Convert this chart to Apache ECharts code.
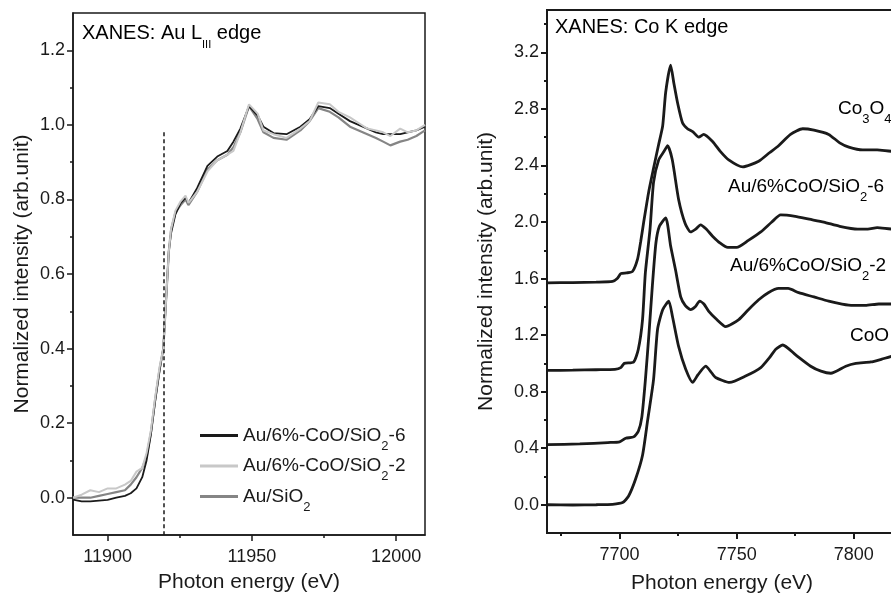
<!DOCTYPE html>
<html>
<head>
<meta charset="utf-8">
<title>XANES</title>
<script src="https://cdn.jsdelivr.net/npm/echarts@6/dist/echarts.min.js"></script>
<style>
html, body { margin: 0; padding: 0; background: #fff; }
#chart { width: 891px; height: 593px; }
</style>
</head>
<body>
<div id="chart"></div>
<script>
// ---- left panel: Au L3 edge ----
var auEnergy = [11888, 11891, 11894, 11897, 11900, 11903, 11906, 11908, 11910, 11912, 11913.5, 11915,
  11916.5, 11918, 11919.3, 11920.4, 11921.2, 11922, 11923.5, 11925.3, 11927, 11928, 11931, 11934.6,
  11938, 11941.5, 11943.6, 11946, 11949, 11952, 11954, 11957.5, 11962, 11966.8, 11970, 11973,
  11977, 11980, 11984, 11987, 11990, 11993, 11995.5, 11998, 12001.4, 12004, 12007, 12010];
var auCoO6 = [-0.005, -0.01, -0.01, -0.008, -0.006, 0.0, 0.005, 0.012, 0.025, 0.055, 0.1, 0.17,
  0.26, 0.34, 0.40, 0.55, 0.66, 0.71, 0.76, 0.79, 0.805, 0.79, 0.83, 0.89,
  0.915, 0.93, 0.955, 0.99, 1.05, 1.025, 0.995, 0.978, 0.975, 0.995, 1.015, 1.05,
  1.045, 1.03, 1.01, 1.0, 0.99, 0.98, 0.975, 0.975, 0.975, 0.98, 0.985, 0.995];
var auCoO2 = [0.0, 0.008, 0.02, 0.015, 0.025, 0.025, 0.035, 0.045, 0.07, 0.08, 0.12, 0.18,
  0.27, 0.35, 0.40, 0.55, 0.66, 0.72, 0.77, 0.795, 0.81, 0.79, 0.82, 0.875,
  0.905, 0.92, 0.93, 0.98, 1.055, 1.03, 0.985, 0.975, 0.965, 0.99, 1.01, 1.06,
  1.055, 1.035, 1.02, 1.005, 0.99, 0.985, 0.98, 0.97, 0.99, 0.98, 0.985, 1.0];
var auSiO2 = [0.0, 0.0, 0.0, 0.005, 0.01, 0.015, 0.02, 0.035, 0.055, 0.08, 0.11, 0.175,
  0.265, 0.345, 0.40, 0.55, 0.66, 0.72, 0.765, 0.785, 0.80, 0.785, 0.82, 0.88,
  0.905, 0.92, 0.94, 0.98, 1.05, 1.015, 0.98, 0.965, 0.96, 0.985, 1.01, 1.045,
  1.035, 1.02, 0.995, 0.985, 0.975, 0.965, 0.955, 0.945, 0.955, 0.96, 0.97, 0.985];
var auEdge = 11919.3;
var auEdgeTop = 0.98;
var auXTicks = [11900, 11950, 12000];
var auXMinor = [11925, 11975];
var auYTicks = [0, 0.2, 0.4, 0.6, 0.8, 1.0, 1.2];
var auYMinor = [0.1, 0.3, 0.5, 0.7, 0.9, 1.1];

// ---- right panel: Co K edge ----
var co3o4E = [7669, 7680, 7690, 7697, 7699, 7700.5, 7703, 7705.5, 7707.7, 7709, 7710.3, 7712.5,
  7714.5, 7716.7, 7718.4, 7719.7, 7721.8, 7723.2, 7724.8, 7726.9, 7729, 7731.2, 7733.8, 7735.9,
  7739.7, 7743, 7746.6, 7752.6, 7759.4, 7764, 7767.9, 7773, 7778.2, 7783, 7789.3, 7794,
  7797.9, 7803.8, 7810, 7816.7, 7830];
var co3o4V = [1.57, 1.572, 1.575, 1.58, 1.60, 1.635, 1.64, 1.65, 1.74, 1.86, 2.0, 2.22,
  2.38, 2.55, 2.68, 2.92, 3.11, 2.98, 2.84, 2.70, 2.66, 2.64, 2.60, 2.62,
  2.57, 2.50, 2.44, 2.39, 2.43, 2.49, 2.54, 2.62, 2.66, 2.65, 2.62, 2.56,
  2.53, 2.51, 2.51, 2.50, 2.50];
var au6E = [7669, 7680, 7690, 7698, 7700.5, 7702, 7706, 7708, 7709.8, 7711, 7713, 7714.5,
  7716.7, 7719, 7720.5, 7722.5, 7725.2, 7728, 7730.3, 7732.5, 7734.6, 7737, 7739.7, 7743,
  7746.2, 7750, 7755, 7760.3, 7765, 7768.8, 7775, 7781, 7787.2, 7794, 7801.7, 7806,
  7810, 7816.7, 7830];
var au6V = [0.95, 0.952, 0.955, 0.958, 0.97, 1.0, 1.01, 1.10, 1.31, 1.64, 1.95, 2.28,
  2.44, 2.50, 2.54, 2.44, 2.16, 1.99, 1.93, 1.95, 1.98, 1.95, 1.90, 1.85,
  1.82, 1.82, 1.87, 1.93, 2.00, 2.05, 2.04, 2.02, 2.0, 1.97, 1.95, 1.95,
  1.96, 1.95, 1.95];
var au2E = [7669, 7683, 7695, 7700, 7702.6, 7706, 7708, 7709.5, 7711, 7712.5, 7714, 7715.5,
  7717, 7719.7, 7721.8, 7723.9, 7726.1, 7728, 7730.3, 7732.3, 7734.2, 7736, 7738, 7741.5,
  7745.3, 7750.9, 7755, 7759.4, 7763.5, 7767.9, 7772, 7776.5, 7783, 7789.3, 7795, 7799.6,
  7805, 7810.7, 7816.7, 7830];
var au2V = [0.425, 0.43, 0.44, 0.445, 0.47, 0.48, 0.52, 0.62, 0.88, 1.20, 1.55, 1.85,
  1.97, 2.03, 1.83, 1.66, 1.47, 1.41, 1.38, 1.40, 1.44, 1.42, 1.37, 1.31,
  1.26, 1.31, 1.38, 1.45, 1.50, 1.53, 1.53, 1.50, 1.47, 1.44, 1.42, 1.41,
  1.41, 1.42, 1.42, 1.41];
var cooE = [7669, 7680, 7690, 7697, 7701.3, 7703.8, 7706.8, 7709.8, 7712, 7714.5, 7716.2, 7718.4,
  7721, 7722.6, 7725.2, 7728.2, 7731.2, 7733.5, 7736.8, 7739, 7741, 7747, 7753.8, 7760.3,
  7764, 7766.7, 7769.7, 7775.2, 7781.6, 7786, 7790.2, 7796.6, 7800.9, 7807.3, 7812, 7816.2, 7830];
var cooV = [0.0, -0.002, 0.0, 0.003, 0.015, 0.06, 0.18, 0.35, 0.60, 0.885, 1.24, 1.38,
  1.44, 1.33, 1.12, 0.96, 0.865, 0.92, 0.98, 0.94, 0.90, 0.865, 0.91, 0.97,
  1.04, 1.10, 1.13, 1.06, 0.98, 0.945, 0.93, 0.98, 1.00, 1.01, 1.03, 1.05, 1.08];
var coXTicks = [7700, 7750, 7800];
var coXMinor = [7675, 7725, 7775, 7825];
var coYTicks = [0, 0.4, 0.8, 1.2, 1.6, 2.0, 2.4, 2.8, 3.2];
var coYMinor = [0.2, 0.6, 1.0, 1.4, 1.8, 2.2, 2.6, 3.0, 3.4];

var font = "'Liberation Sans', Arial, sans-serif";
var ink = '#1a1a1a';

function zip(xs, ys) {
  return xs.map(function (x, i) { return [x, ys[i]]; });
}

var richText = {
  n: { fontSize: 19, fontFamily: font, color: ink, lineHeight: 34 },
  s: { fontSize: 13, fontFamily: font, color: ink, lineHeight: 13, verticalAlign: 'bottom' },
  t: { fontSize: 20, fontFamily: font, color: ink, lineHeight: 34 },
  ts: { fontSize: 11, fontFamily: font, color: ink, lineHeight: 12, verticalAlign: 'bottom' }
};

var legendNames = {
  'Au/6%-CoO/SiO2-6': '{n|Au/6%-CoO/SiO}{s|2}{n|-6}',
  'Au/6%-CoO/SiO2-2': '{n|Au/6%-CoO/SiO}{s|2}{n|-2}',
  'Au/SiO2': '{n|Au/SiO}{s|2}'
};

// one axis with labels + long ticks, one with only the short minor ticks
function xAxes(grid, min, max, ticks, minor, lw, nameGap, namePad) {
  return [{
    gridIndex: grid, type: 'value', min: min, max: max, position: 'bottom',
    name: 'Photon energy (eV)', nameLocation: 'middle', nameGap: nameGap,
    nameTextStyle: { fontSize: 21, color: ink, fontFamily: font, padding: namePad },
    axisLine: { onZero: false, lineStyle: { color: ink, width: lw } },
    axisTick: { customValues: ticks, length: 6, lineStyle: { color: ink, width: lw } },
    axisLabel: {
      customValues: ticks, margin: 13, fontSize: 18, color: ink, fontFamily: font,
      formatter: function (v) { return String(v); }
    },
    splitLine: { show: false }
  }, {
    gridIndex: grid, type: 'value', min: min, max: max, position: 'bottom',
    axisLine: { show: false, onZero: false },
    axisTick: { customValues: minor, length: 3, lineStyle: { color: ink, width: lw } },
    axisLabel: { show: false },
    splitLine: { show: false }
  }];
}

function yAxes(grid, min, max, ticks, minor, lw, nameGap) {
  return [{
    gridIndex: grid, type: 'value', min: min, max: max, position: 'left',
    name: 'Normalized intensity (arb.unit)', nameLocation: 'middle', nameGap: nameGap,
    nameTextStyle: { fontSize: 21, color: ink, fontFamily: font },
    axisLine: { onZero: false, lineStyle: { color: ink, width: lw } },
    axisTick: { customValues: ticks, length: 6, lineStyle: { color: ink, width: lw } },
    axisLabel: {
      customValues: ticks, margin: 8, fontSize: 18, color: ink, fontFamily: font,
      formatter: function (v) { return v.toFixed(1); }
    },
    splitLine: { show: false }
  }, {
    gridIndex: grid, type: 'value', min: min, max: max, position: 'left',
    axisLine: { show: false, onZero: false },
    axisTick: { customValues: minor, length: 3, lineStyle: { color: ink, width: lw } },
    axisLabel: { show: false },
    splitLine: { show: false }
  }];
}

function coLine(data) {
  return {
    type: 'line', xAxisIndex: 2, yAxisIndex: 2, data: data, symbol: 'none',
    smooth: 0.2, lineStyle: { color: ink, width: 2.8 }, z: 3
  };
}

var chart = echarts.init(document.getElementById('chart'));

var option = {
  animation: false,
  backgroundColor: '#fff',
  textStyle: { fontFamily: font },
  grid: [
    { left: 73, top: 13, width: 352, height: 522, outerBoundsMode: 'none', containLabel: false,
      show: true, borderColor: ink, borderWidth: 1.5 },
    { left: 547, top: 10, width: 377, height: 523, outerBoundsMode: 'none', containLabel: false,
      show: true, borderColor: ink, borderWidth: 2 }
  ],
  xAxis: xAxes(0, 11888, 12010, auXTicks, auXMinor, 1.5, 37, [0, 0, 0, 0])
    .concat(xAxes(1, 7669, 7830, coXTicks, coXMinor, 2, 40, [0, 27, 0, 0])),
  yAxis: yAxes(0, -0.1, 1.3, auYTicks, auYMinor, 1.5, 40)
    .concat(yAxes(1, -0.2, 3.5, coYTicks, coYMinor, 2, 50)),
  legend: {
    left: 195, top: 421, orient: 'vertical',
    icon: 'rect', itemWidth: 38, itemHeight: 3, itemGap: 4,
    data: ['Au/6%-CoO/SiO2-6', 'Au/6%-CoO/SiO2-2', 'Au/SiO2'],
    formatter: function (name) { return legendNames[name]; },
    textStyle: { color: ink, fontFamily: font, fontSize: 19, rich: richText }
  },
  series: [
    {
      name: 'Au/SiO2', type: 'line', xAxisIndex: 0, yAxisIndex: 0,
      data: zip(auEnergy, auSiO2), symbol: 'none',
      lineStyle: { color: '#858585', width: 2.2 }, itemStyle: { color: '#858585' }
    },
    {
      name: 'Au/6%-CoO/SiO2-6', type: 'line', xAxisIndex: 0, yAxisIndex: 0,
      data: zip(auEnergy, auCoO6), symbol: 'none',
      lineStyle: { color: '#1a1a1a', width: 1.8 }, itemStyle: { color: '#1a1a1a' },
      markLine: {
        silent: true, symbol: 'none', label: { show: false },
        lineStyle: { type: [4, 3], color: ink, width: 1.5 },
        data: [[{ coord: [auEdge, auEdgeTop] }, { coord: [auEdge, -0.1] }]]
      }
    },
    {
      name: 'Au/6%-CoO/SiO2-2', type: 'line', xAxisIndex: 0, yAxisIndex: 0,
      data: zip(auEnergy, auCoO2), symbol: 'none',
      lineStyle: { color: '#c8c8c8', width: 2 }, itemStyle: { color: '#c8c8c8' }
    },
    coLine(zip(co3o4E, co3o4V)),
    coLine(zip(au6E, au6V)),
    coLine(zip(au2E, au2V)),
    coLine(zip(cooE, cooV))
  ],
  graphic: [
    { type: 'text', x: 82, y: 33, style: { text: '{t|XANES: Au L}{ts|III}{t| edge}', rich: richText, verticalAlign: 'middle' } },
    { type: 'text', x: 555, y: 27, style: { text: '{t|XANES: Co K edge}', rich: richText, verticalAlign: 'middle' } },
    { type: 'text', x: 838, y: 109, style: { text: '{n|Co}{s|3}{n|O}{s|4}', rich: richText, verticalAlign: 'middle' } },
    { type: 'text', x: 728, y: 187, style: { text: '{n|Au/6%CoO/SiO}{s|2}{n|-6}', rich: richText, verticalAlign: 'middle' } },
    { type: 'text', x: 730, y: 266, style: { text: '{n|Au/6%CoO/SiO}{s|2}{n|-2}', rich: richText, verticalAlign: 'middle' } },
    { type: 'text', x: 850, y: 336, style: { text: '{n|CoO}', rich: richText, verticalAlign: 'middle' } }
  ]
};

chart.setOption(option);
window.addEventListener('resize', function () { chart.resize(); });
</script>
</body>
</html>
